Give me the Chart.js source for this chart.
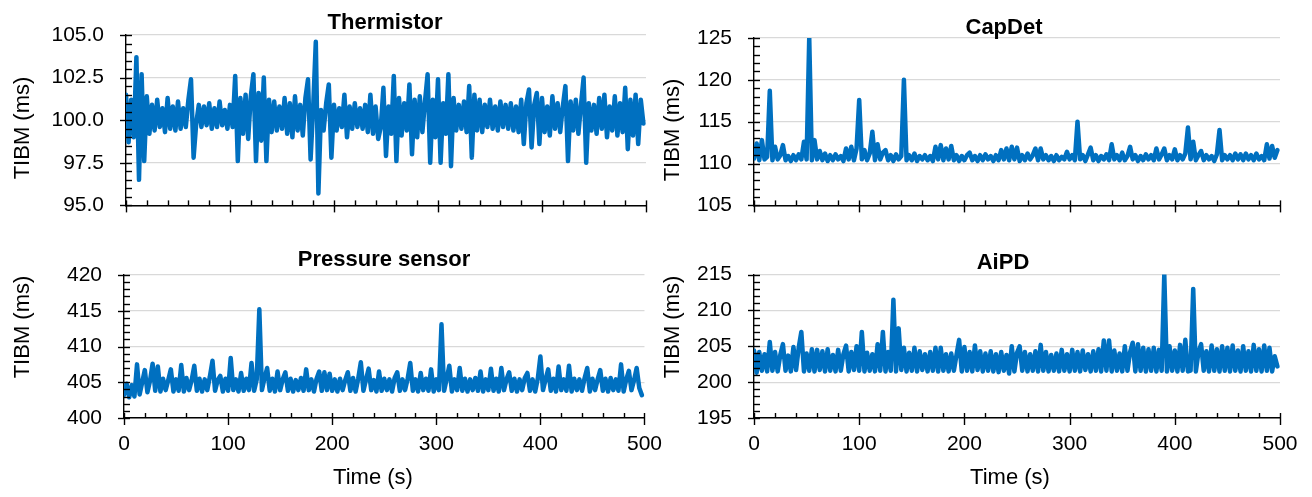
<!DOCTYPE html>
<html>
<head>
<meta charset="utf-8">
<script src="https://cdn.jsdelivr.net/npm/chart.js@4.4.1/dist/chart.umd.min.js"></script>
<style>
  html, body { margin: 0; padding: 0; background: #fff; }
  #wrap { position: relative; width: 1312px; height: 497px; overflow: hidden; background: #fff; }
  #wrap canvas { position: absolute; }
</style>
</head>
<body>
<div id="wrap">
  <canvas id="cThermistor" width="676" height="240" style="left:0px;top:0px"></canvas>
  <canvas id="cCapDet" width="656" height="240" style="left:656px;top:0px"></canvas>
  <canvas id="cPressure" width="676" height="257" style="left:0px;top:240px"></canvas>
  <canvas id="cAiPD" width="656" height="257" style="left:656px;top:240px"></canvas>
</div>
<script>
// TIBM readings (ms), one value every 2.5 s
const thermistor = [
    101.5, 98.7, 101.2, 99.0, 103.7, 96.5, 102.7, 97.6, 101.4, 99.2,
    100.9, 99.4, 101.2, 99.6, 100.7, 99.3, 101.3, 99.5, 100.8, 99.4,
    101.1, 99.5, 100.7, 99.6, 101.2, 102.4, 97.8, 99.8, 100.9, 99.6,
    100.8, 99.7, 101.0, 99.5, 100.7, 99.6, 101.1, 99.7, 100.6, 99.5,
    100.9, 99.6, 102.6, 97.6, 101.3, 99.2, 101.5, 98.9, 101.4, 102.7,
    97.6, 101.6, 98.8, 102.5, 97.6, 101.2, 99.3, 101.1, 99.4, 100.8,
    99.5, 101.3, 99.2, 101.0, 99.0, 101.4, 99.4, 100.9, 99.1, 101.3,
    102.4, 97.7, 100.8, 104.6, 95.7, 100.6, 99.4, 101.0, 102.1, 97.8,
    100.9, 99.4, 100.7, 99.6, 101.5, 99.0, 100.8, 99.5, 101.0, 99.6,
    100.7, 99.5, 100.9, 99.3, 101.5, 99.2, 100.8, 98.9, 99.6, 101.9,
    97.9, 100.8, 99.2, 102.6, 97.6, 101.3, 99.1, 101.0, 99.4, 102.1,
    98.0, 101.2, 99.0, 101.4, 99.3, 101.1, 102.7, 97.5, 101.2, 99.0,
    102.4, 97.5, 101.0, 99.2, 102.7, 97.3, 101.3, 99.4, 100.9, 99.5,
    101.1, 99.3, 102.0, 97.8, 101.5, 99.4, 101.2, 99.3, 100.9, 99.6,
    101.2, 99.5, 100.8, 99.4, 101.1, 99.6, 100.9, 99.5, 101.0, 99.4,
    100.8, 99.3, 101.2, 98.6, 101.0, 101.8, 98.4, 100.9, 101.6, 98.6,
    101.3, 99.3, 100.8, 99.1, 101.4, 99.5, 101.0, 99.3, 100.8, 102.0,
    97.6, 101.1, 99.4, 101.2, 99.2, 100.9, 102.5, 97.5, 101.0, 99.4,
    100.9, 99.2, 101.3, 99.5, 101.5, 99.0, 100.8, 99.4, 101.4, 99.1,
    101.0, 99.3, 101.9, 98.3, 101.2, 99.1, 101.5, 98.6, 101.2, 99.8
];

const capDet = [
    110.6, 112.4, 110.4, 112.8, 110.5, 110.8, 118.7, 110.4, 112.0, 110.5,
    111.0, 112.2, 110.4, 110.9, 110.3, 111.0, 110.4, 111.1, 110.5, 112.6,
    110.5, 125.0, 110.4, 112.8, 110.5, 111.5, 110.4, 111.2, 110.3, 111.0,
    110.4, 111.1, 110.5, 110.9, 110.3, 111.8, 110.5, 112.0, 110.4, 111.8,
    117.6, 110.5, 111.6, 110.4, 111.2, 113.8, 110.4, 112.3, 110.5, 111.3,
    111.6, 110.4, 111.0, 110.3, 111.1, 110.5, 110.9, 120.0, 110.4, 111.0,
    110.4, 111.2, 110.3, 110.9, 110.5, 111.0, 110.4, 110.9, 110.3, 112.0,
    110.5, 112.2, 110.4, 111.8, 110.5, 112.1, 110.4, 111.0, 110.3, 110.9,
    110.4, 111.0, 111.3, 110.4, 110.9, 110.3, 111.0, 110.4, 111.1, 110.5,
    110.9, 110.3, 111.0, 110.4, 111.6, 110.5, 111.8, 110.4, 112.0, 110.5,
    111.9, 110.3, 111.0, 110.4, 111.2, 110.5, 111.0, 111.8, 110.4, 111.8,
    110.5, 111.0, 110.4, 110.9, 110.3, 111.0, 110.4, 110.8, 110.5, 111.4,
    110.5, 111.0, 110.4, 115.0, 110.5, 111.0, 110.3, 111.1, 111.9, 110.4,
    111.0, 110.3, 110.9, 110.5, 111.1, 110.4, 112.3, 110.5, 111.0, 110.4,
    111.3, 110.4, 110.9, 112.0, 110.5, 111.0, 110.3, 110.9, 110.4, 111.1,
    110.5, 111.0, 110.4, 111.8, 110.5, 111.1, 111.8, 110.4, 111.0, 110.5,
    111.7, 110.4, 111.0, 110.5, 111.2, 114.3, 110.5, 112.6, 110.4, 111.0,
    111.5, 110.4, 111.0, 110.5, 110.9, 110.3, 111.1, 114.0, 110.4, 111.0,
    110.5, 111.0, 110.4, 111.2, 110.5, 111.1, 110.4, 111.2, 110.5, 111.0,
    110.4, 111.2, 110.5, 110.9, 110.4, 112.3, 110.6, 112.1, 110.7, 111.6
];

const pressureSensor = [
    403.2, 404.8, 402.9, 404.6, 403.0, 407.5, 403.3, 405.0, 406.7, 403.6,
    405.2, 407.6, 403.8, 407.2, 403.7, 405.5, 403.9, 405.3, 406.8, 403.7,
    405.4, 403.8, 407.4, 403.7, 405.6, 403.9, 405.3, 407.3, 403.8, 405.5,
    403.7, 405.4, 403.9, 405.8, 408.0, 403.8, 405.3, 405.9, 403.7, 405.5,
    403.8, 408.4, 403.9, 405.4, 403.7, 406.3, 403.8, 405.5, 403.9, 407.7,
    403.8, 405.4, 415.2, 403.9, 405.6, 407.0, 403.8, 405.5, 403.7, 406.5,
    403.9, 405.4, 406.4, 403.8, 405.5, 403.7, 405.3, 403.9, 405.6, 403.8,
    406.8, 403.9, 405.4, 403.7, 405.5, 406.5, 403.8, 406.4, 403.9, 406.2,
    403.8, 405.4, 403.7, 405.5, 403.9, 405.3, 406.4, 403.8, 405.6, 403.7,
    405.5, 407.8, 403.8, 405.4, 406.9, 403.9, 405.3, 403.7, 406.5, 403.8,
    405.5, 403.9, 405.4, 403.7, 405.6, 406.4, 403.8, 405.4, 403.9, 405.5,
    407.7, 403.8, 405.4, 403.7, 406.3, 403.9, 405.5, 403.8, 406.8, 403.7,
    405.4, 403.9, 413.1, 403.8, 405.5, 407.3, 403.7, 405.4, 403.9, 407.0,
    403.8, 405.5, 403.7, 405.4, 403.9, 405.6, 403.8, 406.5, 403.7, 405.4,
    403.9, 406.9, 403.8, 405.5, 403.7, 407.0, 403.9, 405.4, 406.4, 403.8,
    405.5, 403.7, 405.4, 403.9, 405.6, 406.3, 403.8, 405.4, 403.7, 405.5,
    408.6, 403.9, 405.4, 406.8, 403.8, 405.5, 403.7, 407.2, 403.9, 405.4,
    403.8, 407.3, 403.7, 405.5, 403.9, 405.4, 403.8, 405.6, 407.0, 403.7,
    405.5, 403.9, 405.4, 406.7, 403.8, 405.5, 403.7, 405.6, 403.9, 405.4,
    403.8, 407.5, 403.7, 405.4, 406.6, 403.9, 405.3, 407.0, 404.2, 403.2
];

const aiPD = [
    204.4, 201.3, 204.2, 201.6, 203.9, 201.5, 205.6, 201.6, 204.2, 201.5,
    203.8, 205.3, 201.6, 203.7, 201.5, 204.9, 201.7, 204.8, 207.0, 201.5,
    204.0, 201.6, 204.6, 201.5, 204.5, 201.7, 204.3, 201.5, 204.6, 201.6,
    203.8, 201.5, 204.5, 201.6, 203.9, 205.1, 201.5, 204.2, 201.7, 205.0,
    201.6, 207.0, 201.5, 204.1, 201.6, 203.9, 201.5, 205.3, 201.6, 207.0,
    201.5, 204.2, 201.6, 211.5, 201.5, 207.5, 201.7, 204.8, 201.5, 204.1,
    201.6, 204.8, 201.5, 204.3, 201.7, 203.9, 201.5, 204.2, 201.6, 204.8,
    201.5, 204.8, 201.6, 203.9, 201.5, 204.0, 201.6, 203.8, 205.9, 201.5,
    204.9, 201.6, 204.2, 201.5, 205.1, 201.7, 204.3, 201.5, 204.0, 201.6,
    204.3, 201.5, 203.9, 201.4, 204.2, 201.6, 203.8, 201.2, 205.0, 201.5,
    204.1, 205.0, 201.6, 204.2, 201.5, 203.9, 201.6, 204.3, 201.5, 205.2,
    201.6, 204.2, 201.5, 203.8, 201.6, 204.0, 201.5, 204.5, 201.6, 203.9,
    201.5, 204.5, 201.6, 204.2, 201.5, 204.4, 201.7, 203.9, 201.5, 204.3,
    201.6, 204.6, 201.5, 205.8, 201.6, 205.8, 201.5, 204.4, 201.6, 204.0,
    201.5, 205.0, 201.6, 204.2, 205.5, 201.5, 205.3, 201.6, 204.8, 201.5,
    204.6, 201.6, 204.8, 201.5, 204.5, 201.6, 215.0, 201.5, 205.0, 201.6,
    204.4, 201.5, 205.2, 201.6, 205.9, 201.5, 201.6, 213.0, 201.5, 204.2,
    205.3, 201.6, 204.3, 201.5, 205.1, 201.6, 204.6, 201.5, 205.0, 201.6,
    204.8, 201.5, 205.1, 201.6, 204.4, 201.5, 205.0, 201.6, 204.3, 201.5,
    205.2, 201.6, 204.6, 201.5, 205.1, 201.6, 204.8, 201.5, 203.6, 202.2
];

// sample times (s): the logger wrote one value every 2.5 s
const sampleStep = 2.5;
const timeS = thermistor.map((_, i) => i * sampleStep);

// axis ranges per panel: [min, max, major step, minor step]
const thermistorAxis = [95, 105, 2.5, 0.5];
const capDetAxis = [105, 125, 5, 1];
const pressureAxis = [400, 420, 5, 1];
const aiPDAxis = [195, 215, 5, 1];
const timeAxis = [0, 500, 100, 20];

const LINE_BLUE = '#0070c0';
const FONT = '"Liberation Sans", Arial, Helvetica, sans-serif';

/**
 * Excel-style tick marks: majors cross the axis, minors sit inside
 */
const axisTicks = {
    id: 'axisTicks',
    afterDraw(chart, args, opts) {
        const ctx = chart.ctx;
        const xs = chart.scales.x;
        const ys = chart.scales.y;
        const isMajor = (v, step) => Math.abs(v / step - Math.round(v / step)) < 1e-6;
        ctx.save();
        ctx.strokeStyle = '#000';
        ctx.lineWidth = 1.4;

        const [xMin, xMax, xMajor, xMinor] = timeAxis;
        for (let k = 0; xMin + k * xMinor <= xMax + 1e-9; k++) {
            const v = xMin + k * xMinor;
            const px = Math.round(xs.getPixelForValue(v)) + 0.5;
            const major = isMajor(v, xMajor);
            ctx.beginPath();
            ctx.moveTo(px, ys.bottom - 5);
            ctx.lineTo(px, ys.bottom + (major ? 7 : 0));
            ctx.stroke();
        }

        const [yMin, yMax, yMajor, yMinor] = opts.axis;
        for (let k = 0; yMin + k * yMinor <= yMax + 1e-9; k++) {
            const v = yMin + k * yMinor;
            const py = Math.round(ys.getPixelForValue(v)) + 0.5;
            const major = isMajor(v - yMin, yMajor);
            ctx.beginPath();
            ctx.moveTo(xs.left - (major ? 6 : 0), py);
            ctx.lineTo(xs.left + 6, py);
            ctx.stroke();
        }
        ctx.restore();
    }
};

/**
 * Panel title, y axis title and optional x axis title
 */
const panelText = {
    id: 'panelText',
    afterDraw(chart, args, opts) {
        const ctx = chart.ctx;
        ctx.save();
        ctx.fillStyle = '#000';
        ctx.textAlign = 'center';
        ctx.textBaseline = 'middle';

        ctx.font = 'bold 22px ' + FONT;
        ctx.fillText(opts.title, opts.titleX, opts.titleY);

        ctx.font = '22px ' + FONT;
        if (opts.xTitle) {
            ctx.fillText(opts.xTitle, opts.xTitleX, opts.xTitleY);
        }

        ctx.translate(opts.yTitleX, opts.yTitleY);
        ctx.rotate(-Math.PI / 2);
        ctx.fillText('TIBM (ms)', 0, 0);
        ctx.restore();
    }
};

function makePanel(canvasId, values, axis, cfg) {
    const canvas = document.getElementById(canvasId);
    const [yMin, yMax, yMajor] = axis;

    return new Chart(canvas, {
        type: 'line',
        data: {
            labels: timeS,
            datasets: [{
                data: values,
                borderColor: LINE_BLUE,
                borderWidth: 4.5,
                borderJoinStyle: 'round',
                borderCapStyle: 'round',
                pointRadius: 0,
                tension: 0,
                fill: false
            }]
        },
        options: {
            responsive: false,
            animation: false,
            events: [],
            layout: {
                padding: { top: cfg.padTop, right: cfg.padRight, bottom: 0, left: 0 }
            },
            plugins: {
                legend: { display: false },
                tooltip: { enabled: false },
                axisTicks: { axis: axis },
                panelText: cfg.text
            },
            scales: {
                x: {
                    type: 'linear',
                    min: timeAxis[0],
                    max: timeAxis[1],
                    ticks: {
                        stepSize: timeAxis[2],
                        display: cfg.showTime,
                        maxRotation: 0,
                        padding: 14,
                        color: '#000',
                        font: { family: FONT, size: 21 }
                    },
                    grid: { display: false, drawTicks: false },
                    border: { display: true, color: '#000', width: 1.4 },
                    afterFit: (scale) => { scale.height = cfg.xHeight; }
                },
                y: {
                    min: yMin,
                    max: yMax,
                    ticks: {
                        stepSize: yMajor,
                        padding: 22,
                        color: '#000',
                        font: { family: FONT, size: 21 },
                        callback: (v) => cfg.decimals ? Number(v).toFixed(cfg.decimals) : v
                    },
                    grid: { color: '#d9d9d9', lineWidth: 1.3, drawTicks: false },
                    border: { display: true, color: '#000', width: 1.4 },
                    afterFit: (scale) => { scale.width = cfg.yWidth; }
                }
            }
        },
        plugins: [axisTicks, panelText]
    });
}

makePanel('cThermistor', thermistor, thermistorAxis, {
    padTop: 35, padRight: 30, yWidth: 126, xHeight: 27, showTime: false, decimals: 1,
    text: { title: 'Thermistor', titleX: 385, titleY: 23, yTitleX: 23, yTitleY: 128 }
});

makePanel('cCapDet', capDet, capDetAxis, {
    padTop: 38, padRight: 32, yWidth: 98, xHeight: 27, showTime: false, decimals: 0,
    text: { title: 'CapDet', titleX: 348, titleY: 28, yTitleX: 17, yTitleY: 130 }
});

makePanel('cPressure', pressureSensor, pressureAxis, {
    padTop: 35, padRight: 30, yWidth: 124, xHeight: 79, showTime: true, decimals: 0,
    text: { title: 'Pressure sensor', titleX: 384, titleY: 20, yTitleX: 23, yTitleY: 87,
            xTitle: 'Time (s)', xTitleX: 373, xTitleY: 238 }
});

makePanel('cAiPD', aiPD, aiPDAxis, {
    padTop: 34, padRight: 32, yWidth: 98, xHeight: 79, showTime: true, decimals: 0,
    text: { title: 'AiPD', titleX: 347, titleY: 23, yTitleX: 17, yTitleY: 87,
            xTitle: 'Time (s)', xTitleX: 354, xTitleY: 238 }
});
</script>
</body>
</html>
